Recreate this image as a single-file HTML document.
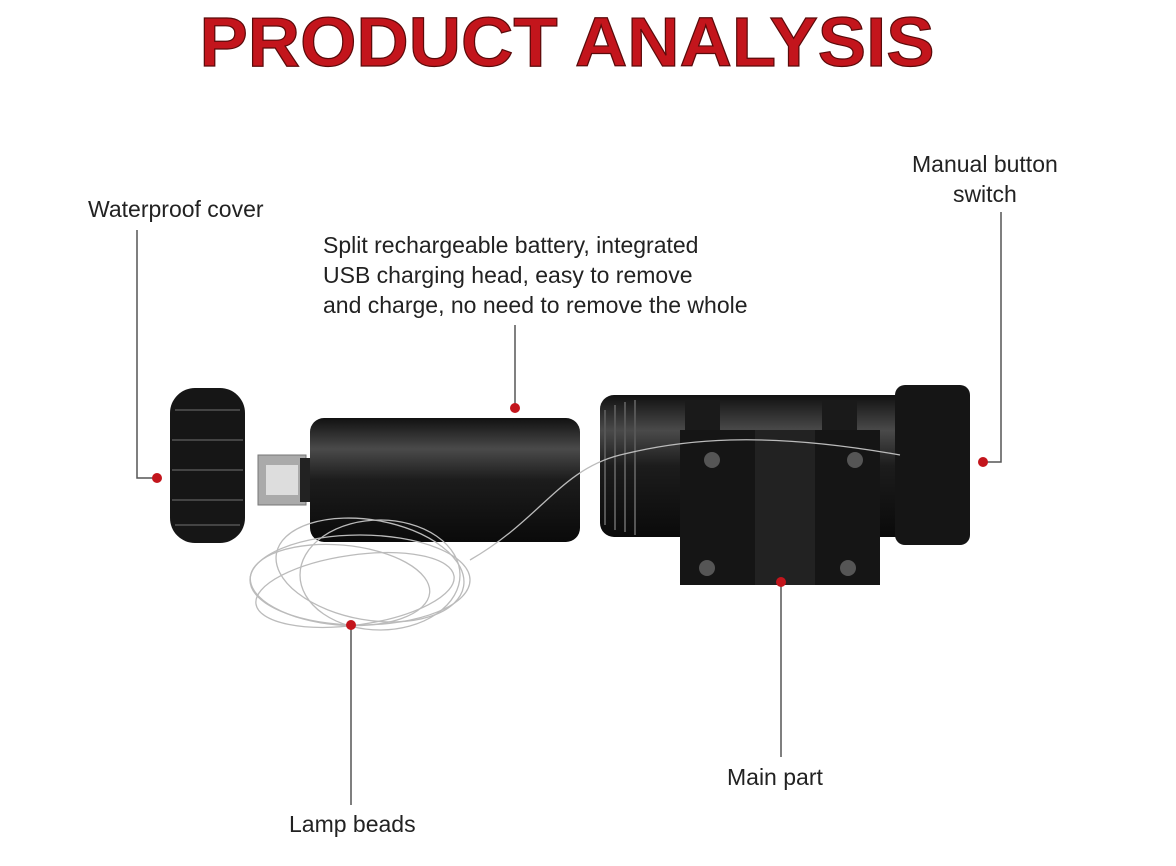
<!DOCTYPE html>
<html><head><meta charset="utf-8"><style>
html,body{margin:0;padding:0;background:#fff;}
body{width:1176px;height:866px;position:relative;overflow:hidden;font-family:"Liberation Sans",sans-serif;}
.t{position:absolute;font-size:23px;color:#222;line-height:30px;white-space:nowrap;}
</style></head><body>
<svg width="1176" height="866" style="position:absolute;left:0;top:0">
<defs>
<linearGradient id="cyl" x1="0" y1="0" x2="0" y2="1">
<stop offset="0" stop-color="#111"/><stop offset=".25" stop-color="#4a4a4a"/><stop offset=".5" stop-color="#1c1c1c"/><stop offset="1" stop-color="#0a0a0a"/></linearGradient>
</defs>
<text x="567" y="66" text-anchor="middle" font-family="Liberation Sans" font-weight="bold" font-size="70" fill="#c3151c" stroke="#5a0a0a" stroke-width="1.2" textLength="735" lengthAdjust="spacingAndGlyphs">PRODUCT ANALYSIS</text>
<g stroke="#555" stroke-width="1.5" fill="none">
<polyline points="137,230 137,478 157,478"/>
<line x1="515" y1="325" x2="515" y2="408"/>
<polyline points="1001,212 1001,462 983,462"/>
<line x1="781" y1="582" x2="781" y2="757"/>
<line x1="351" y1="625" x2="351" y2="805"/>
</g>
<rect x="170" y="388" width="75" height="155" rx="25" fill="#161616"/>
<g stroke="#444" stroke-width="2">
<line x1="175" y1="410" x2="240" y2="410"/><line x1="172" y1="440" x2="243" y2="440"/><line x1="172" y1="470" x2="243" y2="470"/><line x1="172" y1="500" x2="243" y2="500"/><line x1="175" y1="525" x2="240" y2="525"/></g>
<rect x="258" y="455" width="48" height="50" fill="#aaa" stroke="#777"/>
<rect x="266" y="465" width="32" height="30" fill="#ddd"/>
<rect x="300" y="458" width="14" height="44" fill="#222"/>
<rect x="310" y="418" width="270" height="124" rx="14" fill="url(#cyl)"/>
<rect x="600" y="395" width="320" height="142" rx="14" fill="url(#cyl)"/>
<g stroke="#555" stroke-width="2"><line x1="605" y1="410" x2="605" y2="525"/><line x1="615" y1="405" x2="615" y2="530"/><line x1="625" y1="402" x2="625" y2="532"/><line x1="635" y1="400" x2="635" y2="535"/></g>
<rect x="895" y="385" width="75" height="160" rx="10" fill="#151515"/>
<rect x="685" y="400" width="35" height="40" fill="#1a1a1a"/><rect x="822" y="400" width="35" height="40" fill="#1a1a1a"/>
<path d="M680 430 H880 V585 H680 Z" fill="#151515"/>
<rect x="755" y="430" width="60" height="155" fill="#222"/>
<g fill="#555"><circle cx="712" cy="460" r="8"/><circle cx="855" cy="460" r="8"/><circle cx="707" cy="568" r="8"/><circle cx="848" cy="568" r="8"/></g>
<g fill="none" stroke="#bbb" stroke-width="1.3">
<ellipse cx="360" cy="580" rx="110" ry="45"/><ellipse cx="370" cy="570" rx="95" ry="50" transform="rotate(10 370 570)"/>
<ellipse cx="355" cy="590" rx="100" ry="35" transform="rotate(-8 355 590)"/><ellipse cx="380" cy="575" rx="80" ry="55"/>
<ellipse cx="340" cy="585" rx="90" ry="40" transform="rotate(5 340 585)"/>
<path d="M470 560 C540 520 560 470 620 455 S760 430 900 455"/>
</g>
<g fill="#c3151c">
<circle cx="157" cy="478" r="5"/><circle cx="515" cy="408" r="5"/><circle cx="983" cy="462" r="5"/><circle cx="781" cy="582" r="5"/><circle cx="351" cy="625" r="5"/>
</g>
</svg>
<div class="t" style="left:88px;top:194px">Waterproof cover</div>
<div class="t" style="left:323px;top:230px">Split rechargeable battery, integrated<br>USB charging head, easy to remove<br>and charge, no need to remove the whole</div>
<div class="t" style="left:912px;top:149px;text-align:center">Manual button<br>switch</div>
<div class="t" style="left:727px;top:762px">Main part</div>
<div class="t" style="left:289px;top:809px">Lamp beads</div>
</body></html>
